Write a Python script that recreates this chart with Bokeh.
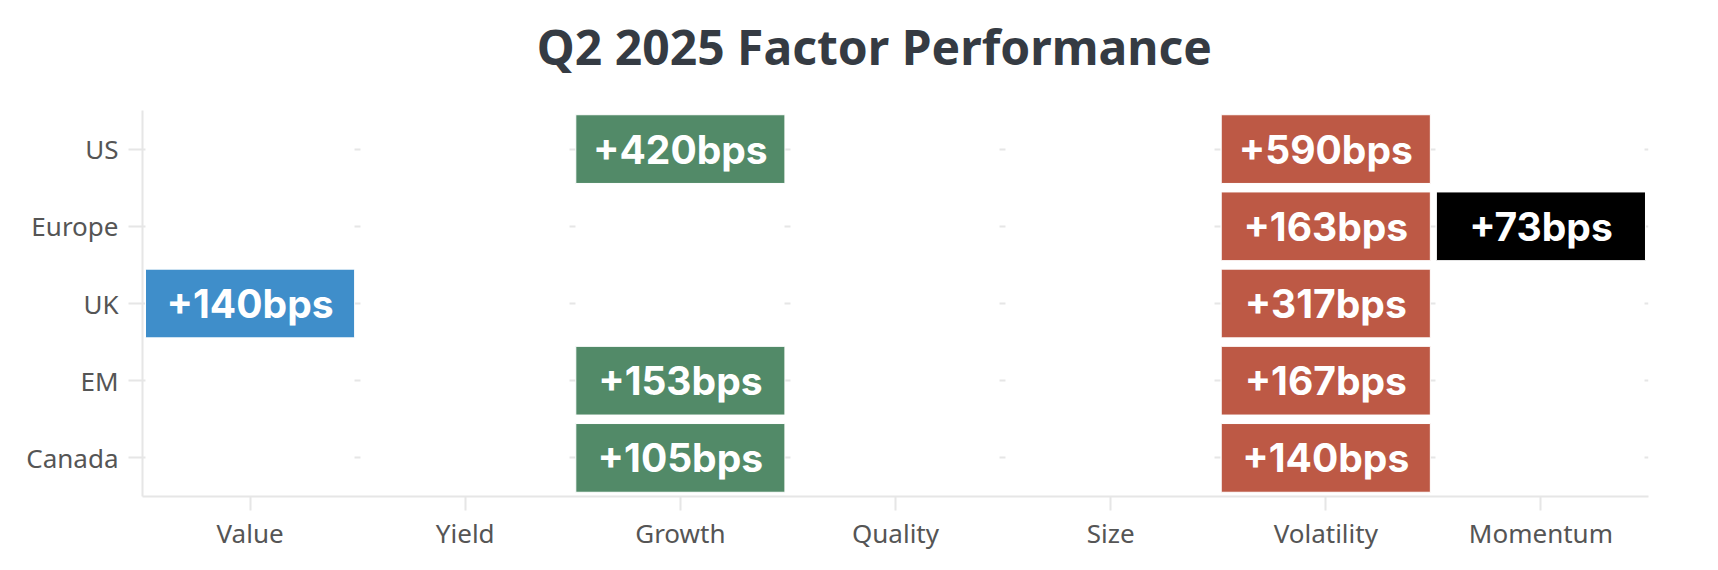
from bokeh.plotting import figure
from bokeh.models import ColumnDataSource, Range1d
from bokeh.layouts import column
from bokeh.core.properties import value
from bokeh.embed import file_html
from bokeh.resources import INLINE

title_text = "Q2 2025 Factor Performance"
factors = ["Value", "Yield", "Growth", "Quality", "Size", "Volatility", "Momentum"]
regions = ["US", "Europe", "UK", "EM", "Canada"]

cell_region = ["US", "US", "Europe", "Europe", "UK", "UK", "EM", "EM", "Canada", "Canada"]
cell_factor = ["Growth", "Volatility", "Volatility", "Momentum", "Value", "Volatility",
               "Growth", "Volatility", "Growth", "Volatility"]
cell_bps = [420, 590, 163, 73, 140, 317, 153, 167, 105, 140]

factor_colors = {"Value": "#3F8ECA", "Growth": "#528A68", "Volatility": "#BD5945", "Momentum": "#000000"}

src = ColumnDataSource(dict(
    x=cell_factor,
    y=cell_region,
    label=["+%dbps" % v for v in cell_bps],
    color=[factor_colors[f] for f in cell_factor],
))

TOTAL_W = 1710
TITLE_H = 110

# ---- title strip (pixel-space figure) ----
t = figure(width=TOTAL_W, height=TITLE_H, x_range=Range1d(0, TOTAL_W), y_range=Range1d(TITLE_H, 0),
           output_backend="svg", toolbar_location=None,
           x_axis_location=None, y_axis_location=None, min_border=0)
t.outline_line_color = None
t.grid.visible = False
t.text(x=[831], y=[46], text=[title_text], text_align="center", text_baseline="alphabetic",
       text_font=value("Noto Sans"), text_font_style="bold", text_font_size="48px",
       text_color="#353B43")

# ---- heatmap ----
p = figure(x_range=factors, y_range=list(reversed(regions)),
           frame_width=1506, frame_height=386,
           output_backend="svg", toolbar_location=None,
           min_border_left=142, min_border_right=62, min_border_top=0, min_border_bottom=66)
p.outline_line_color = None
p.background_fill_color = "white"

p.rect(x="x", y="y", width=0.972, height=0.89, source=src,
       fill_color="color", line_color="white", line_width=1)
p.text(x="x", y="y", text="label", source=src, text_align="center", text_baseline="middle",
       text_color="white", text_font=value("Inter"), text_font_style="bold", text_font_size="39px")

p.xgrid.grid_line_color = None
p.ygrid.grid_line_color = "#e6e6e6"
p.ygrid.grid_line_width = 2
p.ygrid.grid_line_dash = "6 209"
p.ygrid.grid_line_dash_offset = 3
p.ygrid.level = "underlay"

for ax in (p.xaxis[0], p.yaxis[0]):
    ax.axis_line_color = "#e6e6e6"
    ax.axis_line_width = 2
    ax.major_tick_line_color = "#e6e6e6"
    ax.major_tick_line_width = 2
    ax.major_tick_in = 0
    ax.major_tick_out = 14
    ax.minor_tick_line_color = None
    ax.major_label_text_color = "#555555"
    ax.major_label_text_font = "Noto Sans"
    ax.major_label_text_font_size = "26px"
    ax.major_label_standoff = 10

p.xaxis.major_label_standoff = 4

layout = column(t, p, spacing=0)
open("out.html", "w").write(file_html(layout, INLINE))
